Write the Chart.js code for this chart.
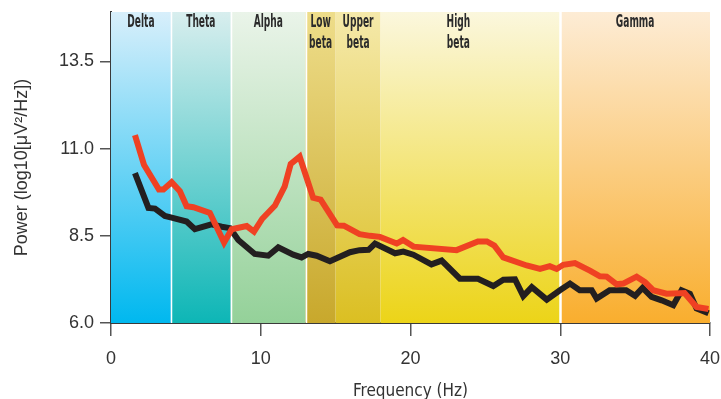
<!DOCTYPE html>
<html>
<head>
<meta charset="utf-8">
<script src="https://cdn.jsdelivr.net/npm/chart.js@4"></script>
<style>
  html, body { margin: 0; padding: 0; background: #fff; }
  #wrap { width: 721px; height: 399px; }
</style>
</head>
<body>
<div id="wrap"><canvas id="eegChart" width="721" height="399"></canvas></div>
<script>
// red trace
const redFreq = [1.6, 2.2, 3.2, 3.5, 4.05, 4.6, 5.05, 5.5, 6.6, 7.55, 8.06, 9.06, 9.55, 10.1, 10.95, 11.6, 12.0, 12.6,
  13.5, 14.0, 15.1, 15.55, 16.6, 17.3, 17.96, 19.08, 19.5, 20.2, 23.08, 24.5, 25.1, 25.6, 26.2, 27.76, 28.65, 29.3,
  29.76, 30.2, 30.98, 31.98, 32.65, 33.1, 33.77, 34.2, 35.1, 35.66, 36.2, 37.1, 38.3, 39.1, 39.9];
const redPower = [11.39, 10.54, 9.83, 9.83, 10.04, 9.78, 9.35, 9.32, 9.16, 8.31, 8.69, 8.78, 8.62, 8.99, 9.37, 9.92, 10.56, 10.77,
  9.59, 9.54, 8.8, 8.79, 8.55, 8.5, 8.47, 8.28, 8.38, 8.19, 8.09, 8.34, 8.34, 8.22, 7.88, 7.65, 7.55, 7.63,
  7.55, 7.67, 7.72, 7.5, 7.34, 7.33, 7.11, 7.13, 7.33, 7.17, 6.94, 6.84, 6.86, 6.46, 6.4];

// black trace
const blackFreq = [1.6, 2.5, 2.94, 3.6, 4.05, 5.05, 5.6, 6.7, 7.4, 7.95, 8.5, 9.6, 10.5, 11.17, 12.17, 12.73, 13.17, 13.73,
  14.62, 15.96, 16.6, 17.2, 17.63, 18.97, 19.52, 20.19, 21.4, 22.08, 23.3, 24.5, 25.53, 26.2, 26.98, 27.53, 28.1, 29.1,
  29.98, 30.65, 31.3, 32.1, 32.43, 33.3, 34.4, 35.0, 35.5, 36.1, 36.77, 37.55, 38.1, 38.66, 39.1, 39.9];
const blackPower = [10.3, 9.3, 9.28, 9.07, 9.02, 8.91, 8.69, 8.83, 8.76, 8.72, 8.38, 7.98, 7.93, 8.17, 7.96, 7.88, 7.98, 7.93,
  7.77, 8.03, 8.09, 8.1, 8.28, 8.0, 8.05, 7.96, 7.68, 7.79, 7.27, 7.27, 7.06, 7.24, 7.25, 6.77, 7.03, 6.67,
  6.94, 7.13, 6.94, 6.94, 6.7, 6.94, 6.94, 6.78, 7.01, 6.75, 6.65, 6.51, 6.94, 6.84, 6.42, 6.28];

// frequency bands
const bandNames = [["Delta"], ["Theta"], ["Alpha"], ["Low", "beta"], ["Upper", "beta"], ["High", "beta"], ["Gamma"]];
const bandStart = [0, 4, 8, 13, 15, 18, 30];
const bandEnd = [4, 8, 13, 15, 18, 30, 40];
const bandLabelAt = [2, 6, 10.5, 14, 16.5, 23.2, 35];

const xTicks = [0, 10, 20, 30, 40];
const yTicks = [6.0, 8.5, 11.0, 13.5];

// styles
const bandTop = ["#d8effb", "#d8eeee", "#eaf4e9", "#eedd8a", "#f5e9aa", "#fbf7dd", "#fdecd5"];
const bandBottom = ["#00b8ef", "#0db6b6", "#94d199", "#c8a82c", "#dbbf22", "#ecd418", "#f9ae2e"];
const separatorAfter = [true, true, true, false, false, true, false];

const bandsPlugin = {
  id: "bands",
  beforeDatasetsDraw(chart) {
    const { ctx, chartArea: a, scales: { x } } = chart;
    ctx.save();
    bandStart.forEach((s, i) => {
      const x0 = x.getPixelForValue(s);
      const x1 = x.getPixelForValue(bandEnd[i]);
      const g = ctx.createLinearGradient(0, a.top, 0, a.bottom);
      g.addColorStop(0, bandTop[i]);
      g.addColorStop(1, bandBottom[i]);
      ctx.fillStyle = g;
      ctx.fillRect(x0, a.top, x1 - x0, a.bottom - a.top);
    });
    ctx.strokeStyle = "#ffffff";
    bandEnd.forEach((e, i) => {
      if (!separatorAfter[i]) return;
      const px = Math.round(x.getPixelForValue(e)) + 0.5;
      ctx.lineWidth = i === 5 ? 2.5 : 1.5;
      ctx.beginPath();
      ctx.moveTo(px, a.top);
      ctx.lineTo(px, a.bottom);
      ctx.stroke();
    });
    ctx.fillStyle = "#2b2b2b";
    ctx.font = "bold 14px 'DejaVu Sans Condensed', 'Liberation Sans', sans-serif";
    ctx.textAlign = "center";
    ctx.textBaseline = "middle";
    bandNames.forEach((lines, i) => {
      const cx = x.getPixelForValue(bandLabelAt[i]);
      lines.forEach((t, j) => {
        ctx.save();
        ctx.translate(cx, a.top + 10 + j * 21);
        ctx.scale(0.72, 1.25);
        ctx.fillText(t, 0, 0);
        ctx.restore();
      });
    });
    ctx.restore();
  }
};

const toPoints = (xs, ys) => xs.map((v, i) => ({ x: v, y: ys[i] }));

new Chart(document.getElementById("eegChart"), {
  type: "line",
  data: {
    datasets: [
      {
        label: "Red",
        data: toPoints(redFreq, redPower),
        borderColor: "#ef4123",
        borderWidth: 6,
        pointRadius: 0,
        tension: 0,
        fill: false
      },
      {
        label: "Black",
        data: toPoints(blackFreq, blackPower),
        borderColor: "#231f20",
        borderWidth: 6,
        pointRadius: 0,
        tension: 0,
        fill: false
      }
    ]
  },
  options: {
    responsive: false,
    animation: false,
    layout: { padding: { top: 12, right: 11, left: 0, bottom: 0 } },
    plugins: {
      legend: { display: false },
      tooltip: { enabled: false }
    },
    scales: {
      x: {
        type: "linear",
        min: 0,
        max: 40,
        afterFit: s => { s.height = 76; s.paddingLeft = 0; s.paddingRight = 0; },
        afterBuildTicks: s => { s.ticks = xTicks.map(v => ({ value: v })); },
        border: { display: true, color: "#3a3a3a", width: 2 },
        grid: { drawOnChartArea: false, drawTicks: true, tickLength: 13, color: "#555", lineWidth: 1.5 },
        ticks: {
          padding: 12,
          color: "#333",
          font: { family: "'Liberation Sans', Arial, sans-serif", size: 18 },
          maxRotation: 0
        },
        title: {
          display: true,
          text: "Frequency (Hz)",
          color: "#333",
          font: { family: "'DejaVu Sans Condensed', 'Liberation Sans', sans-serif", size: 17 },
          padding: { top: 0, bottom: -3 }
        }
      },
      y: {
        type: "linear",
        min: 6,
        max: 14.92,
        afterFit: s => { s.width = 111; s.paddingTop = 0; s.paddingBottom = 0; },
        afterBuildTicks: s => { s.ticks = yTicks.map(v => ({ value: v })); },
        border: { display: true, color: "#3a3a3a", width: 2 },
        grid: { drawOnChartArea: false, drawTicks: true, tickLength: 11, color: "#555", lineWidth: 1.5 },
        ticks: {
          padding: 6,
          color: "#333",
          font: { family: "'Liberation Sans', Arial, sans-serif", size: 18 },
          callback: v => Number(v).toFixed(1)
        },
        title: {
          display: true,
          text: "Power (log10[μV²/Hz])",
          color: "#333",
          font: { family: "'Liberation Sans', Arial, sans-serif", size: 18 },
          padding: { top: 11, bottom: 0 }
        }
      }
    }
  },
  plugins: [bandsPlugin]
});
</script>
</body>
</html>
